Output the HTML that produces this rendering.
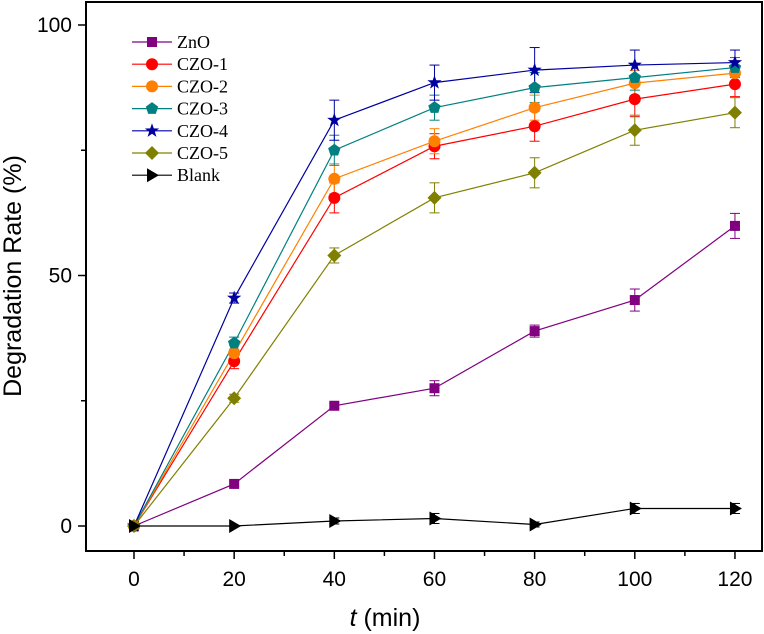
<!DOCTYPE html>
<html><head><meta charset="utf-8"><style>body{margin:0;background:#fff}svg{display:block}</style></head>
<body>
<svg id="s" width="764" height="634" xmlns="http://www.w3.org/2000/svg" font-family="Liberation Sans, Arial, sans-serif">
<rect x="86" y="2" width="676" height="549" fill="none" stroke="#000" stroke-width="2"/>
<g id="g"></g>
<text x="385" y="626" font-size="25" text-anchor="middle"><tspan font-style="italic">t</tspan> (min)</text>
<text transform="translate(21,276) rotate(-90)" font-size="25" text-anchor="middle">Degradation Rate (%)</text>
</svg>
<script>
const NS="http://www.w3.org/2000/svg",g=document.getElementById('g');
function el(t,a,txt){const e=document.createElementNS(NS,t);for(const k in a)e.setAttribute(k,a[k]);if(txt!==undefined)e.textContent=txt;g.appendChild(e);return e;}
const X=t=>134+t*5.008, Y=v=>526-v*5.01;
for(let t=-10;t<=130;t+=10){const x=X(t);if(x<86||x>762)continue;el('line',{x1:x,y1:551,x2:x,y2:t%20==0?559:556,stroke:'#000','stroke-width':1.5});}
for(let t=0;t<=120;t+=20)el('text',{x:X(t),y:586,'font-size':21,'text-anchor':'middle'},t);
[[0,'0'],[50,'50'],[100,'100']].forEach(([v,l])=>{el('line',{x1:78,y1:Y(v),x2:86,y2:Y(v),stroke:'#000','stroke-width':1.5});el('text',{x:72,y:Y(v)+7,'font-size':21,'text-anchor':'end'},l)});
[25,75].forEach(v=>el('line',{x1:81,y1:Y(v),x2:86,y2:Y(v),stroke:'#000','stroke-width':1.5}));
const T=[0,20,40,60,80,100,120];
const S=[
['ZnO','#800080','sq',[0,8.4,24,27.5,38.9,45.1,59.9],[0,0.5,0.5,1.5,1.2,2.2,2.5]],
['CZO-1','#ff0000','ci',[0,32.9,65.5,75.8,79.8,85.2,88.2],[0,1.5,3,2.5,3,3.5,2.5]],
['CZO-2','#ff8000','ci',[0,34.5,69.3,76.8,83.5,88.4,90.4],[0,1.5,3,2.5,2.5,2.5,2.5]],
['CZO-3','#008080','pe',[0,36.5,75,83.5,87.5,89.5,91.5],[0,1.2,3,2.5,3,2.5,2]],
['CZO-4','#0000a0','st',[0,45.5,81,88.5,91,92,92.5],[0,1,4,3.5,4.5,3,2.5]],
['CZO-5','#808000','di',[0,25.5,54,65.5,70.5,79,82.5],[0,0.8,1.5,3,3,3,3]],
['Blank','#000','tr',[0,0,1,1.5,0.3,3.5,3.5],[0,0.3,0.6,1,0.5,1,1]]];
function mk(type,x,y,c){
 if(type=='sq')el('rect',{x:x-5,y:y-5,width:10,height:10,fill:c});
 else if(type=='ci')el('circle',{cx:x,cy:y,r:6,fill:c});
 else if(type=='pe'){let p=[];for(let i=0;i<5;i++){const a=-Math.PI/2+i*2*Math.PI/5;p.push((x+6.5*Math.cos(a))+','+(y+6.5*Math.sin(a)));}el('polygon',{points:p.join(' '),fill:c});}
 else if(type=='st'){let p=[];for(let i=0;i<10;i++){const r=i%2?3:7.5,a=-Math.PI/2+i*Math.PI/5;p.push((x+r*Math.cos(a))+','+(y+r*Math.sin(a)));}el('polygon',{points:p.join(' '),fill:c});}
 else if(type=='di')el('polygon',{points:`${x},${y-7} ${x+7},${y} ${x},${y+7} ${x-7},${y}`,fill:c});
 else if(type=='tr')el('polygon',{points:`${x-5},${y-7} ${x+7},${y} ${x-5},${y+7}`,fill:c});
}
S.forEach(([n,c,m,v,e])=>{
 el('polyline',{points:T.map((t,i)=>X(t)+','+Y(v[i])).join(' '),fill:'none',stroke:c,'stroke-width':1.2});
 T.forEach((t,i)=>{if(e[i]>0.4){const x=X(t),a=Y(v[i]-e[i]),b=Y(v[i]+e[i]);el('line',{x1:x,y1:a,x2:x,y2:b,stroke:c,'stroke-width':1});el('line',{x1:x-5,y1:a,x2:x+5,y2:a,stroke:c});el('line',{x1:x-5,y1:b,x2:x+5,y2:b,stroke:c});}});
});
S.forEach(([n,c,m,v])=>T.forEach((t,i)=>mk(m,X(t),Y(v[i]),c)));
S.forEach(([n,c,m],i)=>{const y=42+i*22.2;el('line',{x1:132,y1:y,x2:172,y2:y,stroke:c,'stroke-width':1.2});mk(m,152,y,c);el('text',{x:177,y:y+6,'font-size':18,'font-family':'Liberation Serif, serif'},n);});
</script>
</body></html>
